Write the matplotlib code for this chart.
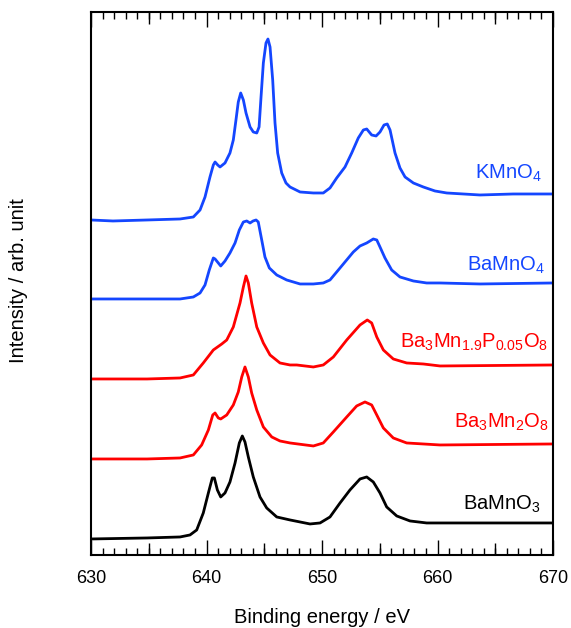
import numpy as np
import matplotlib.pyplot as plt

plt.rcParams['font.family'] = ['Liberation Sans', 'DejaVu Sans']
plt.rcParams['mathtext.default'] = 'regular'

# Mn 2p XPS spectra, each already offset (arb. unit)
e_kmno4 = [630.00, 631.90, 634.85, 637.71, 638.86, 639.44, 639.87, 640.30, 640.59, 640.74,
           640.97, 641.17, 641.60, 642.03, 642.32, 642.55, 642.75, 642.96, 643.19, 643.42,
           643.77, 644.05, 644.35, 644.55, 644.72, 644.92, 645.15, 645.32, 645.50, 645.73,
           645.93, 646.16, 646.51, 646.88, 647.23, 648.10, 649.25, 650.11, 650.69, 651.27,
           651.99, 652.57, 653.14, 653.58, 653.87, 654.30, 654.68, 655.02, 655.37, 655.65,
           655.89, 656.32, 656.75, 657.19, 657.91, 658.77, 659.78, 660.80, 663.68, 666.56,
           670.00]
i_kmno4 = [335, 334, 335, 336, 338, 345, 358, 378, 390, 393,
           390, 388, 392, 402, 415, 435, 453, 462, 455, 442,
           428, 423, 422, 428, 458, 492, 512, 516, 508, 475,
           432, 402, 382, 372, 368, 363, 362, 362, 367, 377,
           388, 402, 417, 425, 426, 420, 419, 423, 430, 431,
           425, 402, 387, 378, 372, 368, 364, 362, 360, 361,
           361]

e_bamno4 = [630.00, 634.85, 637.71, 638.86, 639.44, 639.87, 640.24, 640.59, 640.74, 641.02,
            641.23, 641.60, 642.03, 642.47, 642.84, 643.19, 643.48, 643.77, 644.03, 644.29,
            644.48, 644.78, 645.06, 645.44, 646.08, 646.94, 648.10, 649.25, 650.11, 650.69,
            651.27, 651.99, 652.71, 653.29, 653.87, 654.44, 654.74, 655.02, 655.45, 656.03,
            656.75, 657.91, 659.06, 660.22, 663.68, 670.00]
i_bamno4 = [256, 256, 256, 258, 262, 270, 285, 297, 296, 292,
            289, 294, 302, 312, 325, 333, 334, 332, 334, 335,
            333, 315, 298, 287, 280, 275, 271, 271, 272, 275,
            283, 293, 303, 309, 312, 316, 315, 308, 297, 285,
            278, 274, 272, 272, 271, 272]

e_ba3mn19 = [630.00, 634.85, 637.71, 638.86, 639.72, 640.59, 641.32, 641.75, 642.32, 642.90,
             643.19, 643.42, 643.62, 643.91, 644.35, 644.92, 645.50, 646.36, 647.23, 647.81,
             649.25, 650.11, 650.98, 652.14, 653.29, 653.92, 654.30, 654.74, 655.31, 656.17,
             657.33, 658.77, 660.22, 670.00]
i_ba3mn19 = [176, 176, 177, 180, 192, 205, 211, 215, 228, 252,
             268, 279, 272, 252, 228, 212, 200, 192, 190, 190,
             188, 190, 198, 215, 230, 235, 232, 218, 205, 196,
             192, 191, 189, 190]

e_ba3mn2 = [630.00, 634.85, 637.71, 638.86, 639.58, 640.16, 640.54, 640.74, 641.02, 641.23,
            641.75, 642.32, 642.75, 643.05, 643.33, 643.62, 643.91, 644.35, 644.92, 645.65,
            646.36, 647.23, 649.25, 650.11, 650.98, 652.14, 653.00, 653.72, 654.30, 654.74,
            655.31, 656.17, 657.33, 658.77, 660.22, 670.00]
i_ba3mn2 = [96, 96, 97, 100, 110, 125, 140, 142, 137, 136,
            140, 150, 163, 178, 188, 178, 162, 145, 128, 118,
            114, 112, 109, 112, 123, 138, 149, 153, 150, 140,
            127, 117, 112, 111, 110, 111]

e_bamno3 = [630.00, 634.85, 637.71, 638.57, 639.15, 639.72, 640.16, 640.50, 640.68, 640.94,
            641.23, 641.60, 642.03, 642.47, 642.84, 643.10, 643.33, 643.62, 644.05, 644.63,
            645.21, 646.08, 647.23, 648.96, 649.83, 650.69, 651.56, 652.42, 653.29, 653.87,
            654.44, 655.02, 655.60, 656.47, 657.62, 659.06, 660.22, 670.00]
i_bamno3 = [16, 17, 18, 20, 25, 42, 62, 77, 77, 65,
            58, 62, 73, 92, 112, 119, 113, 98, 78, 58,
            47, 38, 35, 31, 32, 38, 52, 65, 76, 78,
            73, 62, 48, 39, 34, 32, 32, 32]

blue = '#1446ff'
red = '#ff0000'

fig = plt.figure(figsize=(5.71, 6.28), dpi=100)
ax = fig.add_axes([0.1594, 0.1163, 0.8091, 0.8646])

ax.plot(e_kmno4, i_kmno4, color=blue, lw=2)
ax.plot(e_bamno4, i_bamno4, color=blue, lw=2)
ax.plot(e_ba3mn19, i_ba3mn19, color=red, lw=2)
ax.plot(e_ba3mn2, i_ba3mn2, color=red, lw=2)
ax.plot(e_bamno3, i_bamno3, color='black', lw=2)

fs = 14.5
ax.text(669.0, 376, 'KMnO$_4$', color=blue, fontsize=fs, ha='right')
ax.text(669.3, 284, 'BaMnO$_4$', color=blue, fontsize=fs, ha='right')
ax.text(669.6, 207, 'Ba$_3$Mn$_{1.9}$P$_{0.05}$O$_8$', color=red, fontsize=fs, ha='right')
ax.text(669.6, 127, 'Ba$_3$Mn$_2$O$_8$', color=red, fontsize=fs, ha='right')
ax.text(668.9, 45, 'BaMnO$_3$', color='black', fontsize=fs, ha='right')

ax.set_xlim(630, 670)
ax.set_ylim(0, 543)
ax.set_yticks([])
ax.set_xticks(np.arange(630, 671, 10))
ax.set_xticks(np.arange(630, 671, 1), minor=True)
ax.tick_params(axis='x', which='major', direction='in', length=11, width=1,
               top=True, labelsize=13, pad=11)
ax.tick_params(axis='x', which='minor', direction='in', length=5, width=1, top=True)
for s in ax.spines.values():
    s.set_linewidth(1.5)

# medium ticks every 5 eV
for loc in ['bottom', 'top']:
    sec = ax.secondary_xaxis(loc)
    sec.set_xticks(np.arange(635, 670, 10))
    sec.tick_params(direction='in', length=8.5, width=1, labelbottom=False, labeltop=False)
    sec.spines[loc].set_visible(False)

ax.set_xlabel('Binding energy / eV', fontsize=14.5)
ax.set_ylabel('Intensity / arb. unit', fontsize=14.5)
ax.xaxis.set_label_coords(0.5, -0.097)
ax.yaxis.set_label_coords(-0.136, 0.506)

fig.savefig('out.png', dpi=100)
